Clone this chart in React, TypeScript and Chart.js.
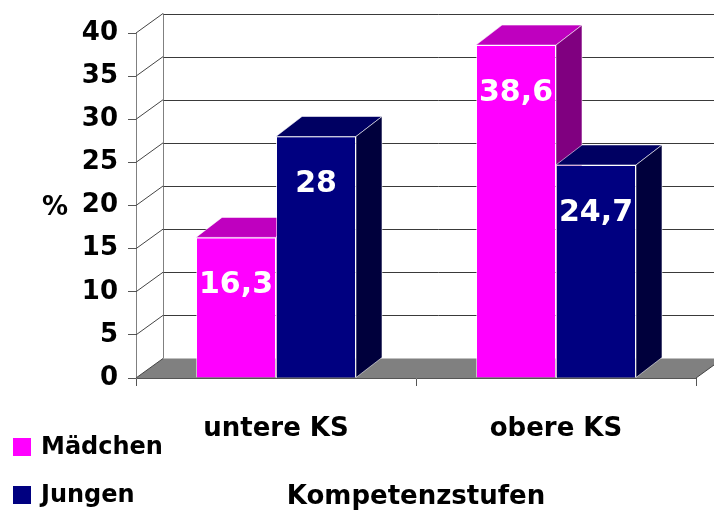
import React, { useEffect, useRef } from 'react';
import { Chart, registerables } from 'chart.js';

Chart.register(...registerables);

const categories = ['untere KS', 'obere KS'];
const seriesNames = ['Mädchen', 'Jungen'];
const maedchen = [16.3, 38.6];
const jungen = [28, 24.7];
const yTicks = [0, 5, 10, 15, 20, 25, 30, 35, 40];
const xTitle = 'Kompetenzstufen';
const yTitle = '%';

const FRONT = ['#FF00FF', '#000080'];
const TOP = ['#BF00BF', '#000062'];
const SIDE = ['#800080', '#00003C'];

const FONT = '"DejaVu Sans", "Noto Sans", sans-serif';
const WX = 27;
const WY = -19.5;
const BX = 26;
const BY = -20;
const EDGE = 'rgba(255,255,255,0.55)';

const fmt = (v: number) => String(v).replace('.', ',');

function drawFaces(ctx: any, bar: any, i: number) {
  const { x, y, base, width } = bar.getProps(['x', 'y', 'base', 'width'], true);
  const l = x - width / 2;
  const r = x + width / 2;
  ctx.fillStyle = TOP[i];
  ctx.beginPath();
  ctx.moveTo(l, y);
  ctx.lineTo(r, y);
  ctx.lineTo(r + BX, y + BY);
  ctx.lineTo(l + BX, y + BY);
  ctx.closePath();
  ctx.fill();
  ctx.stroke();
  ctx.fillStyle = SIDE[i];
  ctx.beginPath();
  ctx.moveTo(r, y);
  ctx.lineTo(r + BX, y + BY);
  ctx.lineTo(r + BX, base + BY);
  ctx.lineTo(r, base);
  ctx.closePath();
  ctx.fill();
  ctx.stroke();
}

const threeD = {
  id: 'threeD',
  beforeDatasetsDraw(chart: any) {
    const { ctx, chartArea: a, scales } = chart;
    const y = scales.y;
    ctx.save();
    ctx.fillStyle = '#808080';
    ctx.beginPath();
    ctx.moveTo(a.left, a.bottom);
    ctx.lineTo(a.right, a.bottom);
    ctx.lineTo(a.right + WX, a.bottom + WY);
    ctx.lineTo(a.left + WX, a.bottom + WY);
    ctx.closePath();
    ctx.fill();
    ctx.lineWidth = 1;
    const bx = Math.round(a.left + WX) + 0.5;
    ctx.strokeStyle = '#808080';
    ctx.beginPath();
    ctx.moveTo(bx, y.getPixelForValue(40) + WY);
    ctx.lineTo(bx, y.getPixelForValue(0) + WY);
    ctx.stroke();
    yTicks.forEach((v) => {
      const py = y.getPixelForValue(v);
      const by = Math.round(py + WY) + 0.5;
      if (v > 0) {
        ctx.strokeStyle = '#3a3a3a';
        ctx.beginPath();
        ctx.moveTo(bx, by);
        ctx.lineTo(chart.width, by);
        ctx.stroke();
      }
      ctx.strokeStyle = '#444';
      ctx.beginPath();
      ctx.moveTo(a.left, py);
      ctx.lineTo(a.left + WX, py + WY);
      ctx.stroke();
    });
    ctx.strokeStyle = '#444';
    ctx.beginPath();
    ctx.moveTo(a.right, a.bottom);
    ctx.lineTo(a.right + WX, a.bottom + WY);
    ctx.stroke();
    ctx.restore();
  },
  afterDatasetsDraw(chart: any) {
    const { ctx } = chart;
    const m0 = chart.getDatasetMeta(0);
    const m1 = chart.getDatasetMeta(1);
    ctx.save();
    ctx.lineWidth = 1;
    ctx.strokeStyle = EDGE;
    // per category: Mädchen faces, then Jungen front (redrawn) and faces
    m0.data.forEach((bar: any, j: number) => {
      drawFaces(ctx, bar, 0);
      const nb = m1.data[j];
      nb.draw(ctx);
      ctx.save();
      ctx.lineWidth = 1;
      ctx.strokeStyle = EDGE;
      drawFaces(ctx, nb, 1);
      ctx.restore();
    });
    // value labels
    ctx.fillStyle = '#ffffff';
    ctx.font = `bold 30px ${FONT}`;
    ctx.textAlign = 'center';
    ctx.textBaseline = 'middle';
    chart.data.datasets.forEach((ds: any, di: number) => {
      const meta = chart.getDatasetMeta(di);
      meta.data.forEach((bar: any, j: number) => {
        const { x, y } = bar.getProps(['x', 'y'], true);
        ctx.fillText(fmt(ds.data[j]), x, y + 48);
      });
    });
    ctx.fillStyle = '#000';
    ctx.font = `bold 26px ${FONT}`;
    ctx.fillText(yTitle, 55, 208);
    ctx.font = `bold 24px ${FONT}`;
    ctx.textAlign = 'left';
    seriesNames.forEach((name, k) => {
      const cy = 448 + k * 48;
      ctx.fillStyle = FRONT[k];
      ctx.fillRect(13, cy - 10, 18, 18);
      ctx.fillStyle = '#000';
      ctx.fillText(name, 41, cy);
    });
    ctx.restore();
  },
};

export default function App() {
  const ref = useRef<HTMLCanvasElement>(null);
  useEffect(() => {
    document.body.style.margin = '0';
    const chart = new Chart(ref.current as HTMLCanvasElement, {
      type: 'bar',
      data: {
        labels: categories,
        datasets: [
          {
            label: seriesNames[0],
            data: maedchen,
            backgroundColor: FRONT[0],
            borderColor: EDGE,
            borderWidth: 1,
          },
          {
            label: seriesNames[1],
            data: jungen,
            backgroundColor: FRONT[1],
            borderColor: EDGE,
            borderWidth: 1,
          },
        ],
      },
      options: {
        responsive: false,
        animation: false,
        events: [],
        layout: { padding: { top: 33, right: 18, left: 0, bottom: 0 } },
        datasets: { bar: { categoryPercentage: 160 / 280, barPercentage: 1 } },
        plugins: { legend: { display: false }, tooltip: { enabled: false } },
        scales: {
          x: {
            afterFit: (s: any) => { s.height = 135; },
            grid: { offset: true, drawOnChartArea: false, tickLength: 8, color: '#555' },
            border: { color: '#555' },
            ticks: { color: '#000', font: { family: FONT, size: 26, weight: 'bold' }, padding: 28 },
            title: {
              display: true,
              text: xTitle,
              color: '#000',
              font: { family: FONT, size: 26, weight: 'bold' },
              padding: { top: 0, bottom: 0 },
            },
          },
          y: {
            min: 0,
            max: 40,
            afterFit: (s: any) => { s.width = 136; },
            afterBuildTicks: (s: any) => { s.ticks = yTicks.map((v) => ({ value: v })); },
            grid: { drawOnChartArea: false, tickLength: 8, color: '#555' },
            border: { color: '#808080' },
            ticks: {
              autoSkip: false,
              color: '#000',
              font: { family: FONT, size: 26, weight: 'bold' },
              padding: 10,
            },
          },
        },
      },
      plugins: [threeD],
    } as any);
    return () => chart.destroy();
  }, []);
  return (
    <div style={{ position: 'absolute', left: 0, top: 0, width: 714, height: 513, background: '#fff' }}>
      <canvas ref={ref} width={714} height={513} style={{ display: 'block' }} />
    </div>
  );
}
